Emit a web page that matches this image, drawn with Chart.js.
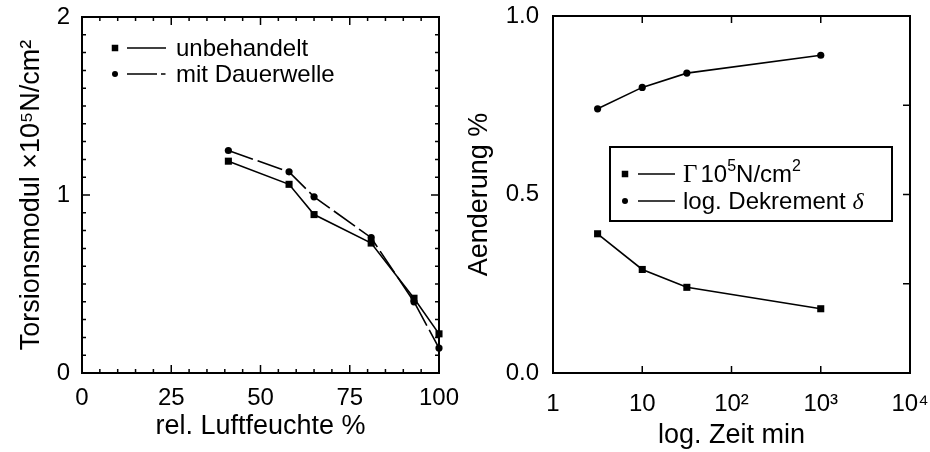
<!DOCTYPE html>
<html><head><meta charset="utf-8">
<script src="https://cdn.jsdelivr.net/npm/chart.js@4.4.0/dist/chart.umd.min.js"></script>
<style>
html,body{margin:0;padding:0;background:#fff;}
#wrap{position:relative;width:930px;height:452px;overflow:hidden;}
canvas{position:absolute;top:0;}
</style>
</head><body>
<div id="wrap">
<canvas id="c1" width="465" height="452" style="left:0px"></canvas>
<canvas id="c2" width="465" height="452" style="left:465px"></canvas>
</div>
<script>
// ---- data (left panel) ----
const humidity = [41, 58, 65, 81, 93, 100];
const modulusUntreated = [1.19, 1.06, 0.89, 0.73, 0.42, 0.22];
const modulusPermed = [1.25, 1.13, 0.99, 0.76, 0.40, 0.14];
const leftSeriesLabels = ['unbehandelt', 'mit Dauerwelle'];
const humidityMajorStep = 25;
// ---- data (right panel) ----
const timeMin = [3.16, 10, 31.6, 1000];
const changeGamma = [0.39, 0.29, 0.24, 0.18];
const changeDelta = [0.74, 0.80, 0.84, 0.89];
const timeTicks = [1, 10, 100, 1000, 10000];
const timeTickLabels = ['1', '10', '10²', '10³', '10⁴'];
const rightSeriesLabels = ['Γ 10⁵N/cm²', 'log. Dekrement δ'];

const SANS = "'Liberation Sans', Arial, sans-serif";
const SERIF = "'Liberation Serif', 'DejaVu Serif', serif";

function pts(xs, ys) { return xs.map((x, i) => ({x: x, y: ys[i]})); }
function isInt(v) { return Math.abs(v - Math.round(v)) < 1e-6; }
function fixX(h) { return s => { s.height = h; s.paddingLeft = 0; s.paddingRight = 0; s.paddingTop = 0; s.paddingBottom = 0; }; }
function fixY(w) { return s => { s.width = w; s.paddingLeft = 0; s.paddingRight = 0; s.paddingTop = 0; s.paddingBottom = 0; }; }

function framePlugin(cfg) {
  return {
    id: 'frame_' + cfg.key,
    beforeDatasetsDraw(chart) {
      const ctx = chart.ctx, a = chart.chartArea;
      const xs = chart.scales.x, ys = chart.scales.y;
      ctx.save();
      ctx.strokeStyle = '#000';
      ctx.lineWidth = 1.5;
      ctx.beginPath();
      xs.ticks.forEach(t => {
        const p = xs.getPixelForValue(t.value);
        const len = cfg.xLen(t.value);
        ctx.moveTo(p, a.bottom); ctx.lineTo(p, a.bottom - len);
        ctx.moveTo(p, a.top); ctx.lineTo(p, a.top + len);
      });
      ys.ticks.forEach(t => {
        const p = ys.getPixelForValue(t.value);
        const len = cfg.yLen(t.value);
        if (cfg.yLeft) { ctx.moveTo(a.left, p); ctx.lineTo(a.left + len, p); }
        if (cfg.yRight) { ctx.moveTo(a.right, p); ctx.lineTo(a.right - len, p); }
      });
      ctx.stroke();
      ctx.lineWidth = 2;
      ctx.strokeRect(a.left, a.top, a.right - a.left, a.bottom - a.top);
      ctx.restore();
    }
  };
}

function legendPlugin(cfg) {
  return {
    id: 'legend_' + cfg.key,
    afterDraw(chart) {
      const ctx = chart.ctx;
      ctx.save();
      ctx.strokeStyle = '#000';
      ctx.fillStyle = '#000';
      if (cfg.box) { ctx.lineWidth = 2; ctx.strokeRect(cfg.box[0], cfg.box[1], cfg.box[2], cfg.box[3]); }
      cfg.items.forEach(it => {
        if (it.marker === 'rect') {
          ctx.fillRect(cfg.markerX - cfg.sq / 2, it.y - cfg.sq / 2, cfg.sq, cfg.sq);
        } else {
          ctx.beginPath(); ctx.arc(cfg.markerX, it.y, cfg.r, 0, Math.PI * 2); ctx.fill();
        }
        ctx.lineWidth = 1.6;
        ctx.setLineDash(it.dash || []);
        ctx.beginPath(); ctx.moveTo(cfg.lineX0, it.y); ctx.lineTo(cfg.lineX1, it.y); ctx.stroke();
        ctx.setLineDash([]);
        let x = cfg.textX;
        ctx.textAlign = 'left';
        ctx.textBaseline = 'middle';
        it.parts.forEach(p => {
          ctx.font = p.font;
          ctx.fillText(p.t, x, it.y + cfg.textDy - (p.up || 0));
          x += ctx.measureText(p.t).width + (p.gap || 0);
        });
      });
      ctx.restore();
    }
  };
}

Chart.defaults.color = '#000';
Chart.defaults.font.family = SANS;

// ---------- left chart ----------
new Chart(document.getElementById('c1'), {
  type: 'scatter',
  data: {
    datasets: [
      { label: leftSeriesLabels[0], data: pts(humidity, modulusUntreated), showLine: true,
        borderColor: '#000', backgroundColor: '#000', borderWidth: 1.6,
        pointStyle: 'rect', pointRadius: 5, pointBorderWidth: 0, clip: false },
      { label: leftSeriesLabels[1], data: pts(humidity, modulusPermed), showLine: true,
        borderColor: '#000', backgroundColor: '#000', borderWidth: 1.6, borderDash: [26, 5],
        pointStyle: 'circle', pointRadius: 3.6, pointBorderWidth: 0, clip: false }
    ]
  },
  options: {
    responsive: false, animation: false, devicePixelRatio: 1,
    layout: { padding: { top: 17, right: 26, left: 0, bottom: 0 } },
    plugins: { legend: { display: false }, tooltip: { enabled: false } },
    scales: {
      x: {
        type: 'linear', min: 0, max: 100,
        afterFit: fixX(79),
        grid: { display: false, drawTicks: false }, border: { display: false },
        ticks: { stepSize: 5, maxTicksLimit: 100, autoSkip: false, maxRotation: 0, padding: 11,
          font: { size: 24 }, color: '#000',
          callback: v => (v % humidityMajorStep === 0 ? String(v) : '') },
        title: { display: true, text: 'rel. Luftfeuchte %', color: '#000',
          font: { size: 27, lineHeight: 1 }, padding: { top: 0, bottom: 12 } }
      },
      y: {
        type: 'linear', min: 0, max: 2,
        afterFit: fixY(82),
        grid: { display: false, drawTicks: false }, border: { display: false },
        ticks: { stepSize: 0.1, maxTicksLimit: 100, autoSkip: false, padding: 12,
          font: { size: 24 }, color: '#000',
          callback: v => (isInt(v) ? String(Math.round(v)) : '') },
        title: { display: true, text: 'Torsionsmodul ×10⁵N/cm²', color: '#000',
          font: { size: 27, lineHeight: 1 }, padding: { top: 18, bottom: 0 } }
      }
    }
  },
  plugins: [
    framePlugin({ key: 'l', xLen: v => (v % humidityMajorStep === 0 ? 8 : 4), yLen: v => (isInt(v) ? 8 : 4), yLeft: true, yRight: true }),
    legendPlugin({ key: 'l', markerX: 115, sq: 6.5, r: 3, lineX0: 127, lineX1: 166, textX: 176, textDy: 1.5,
      items: [
        { marker: 'rect', y: 48, parts: [{ t: leftSeriesLabels[0], font: '24px ' + SANS }] },
        { marker: 'circle', y: 74, dash: [30, 4, 4.5, 40], parts: [{ t: leftSeriesLabels[1], font: '24px ' + SANS }] }
      ] })
  ]
});

// ---------- right chart ----------
const gParts = [
  { t: rightSeriesLabels[0].slice(0, 1), font: '25px ' + SERIF, gap: 3 },
  { t: '10', font: '24px ' + SANS },
  { t: '5', font: '16px ' + SANS, up: 9 },
  { t: 'N/cm', font: '24px ' + SANS },
  { t: '2', font: '16px ' + SANS, up: 9 }
];
const dLabel = rightSeriesLabels[1];
const dParts = [
  { t: dLabel.slice(0, dLabel.length - 1), font: '24px ' + SANS },
  { t: dLabel.slice(-1), font: 'italic 24px ' + SERIF }
];

new Chart(document.getElementById('c2'), {
  type: 'scatter',
  data: {
    datasets: [
      { label: rightSeriesLabels[0], data: pts(timeMin, changeGamma), showLine: true,
        borderColor: '#000', backgroundColor: '#000', borderWidth: 1.6,
        pointStyle: 'rect', pointRadius: 5, pointBorderWidth: 0, clip: false },
      { label: rightSeriesLabels[1], data: pts(timeMin, changeDelta), showLine: true,
        borderColor: '#000', backgroundColor: '#000', borderWidth: 1.6,
        pointStyle: 'circle', pointRadius: 3.6, pointBorderWidth: 0, clip: false }
    ]
  },
  options: {
    responsive: false, animation: false, devicePixelRatio: 1,
    layout: { padding: { top: 16, right: 20, left: 0, bottom: 0 } },
    plugins: { legend: { display: false }, tooltip: { enabled: false } },
    scales: {
      x: {
        type: 'logarithmic', min: timeTicks[0], max: timeTicks[timeTicks.length - 1],
        afterBuildTicks: s => { s.ticks = timeTicks.map(v => ({ value: v })); },
        afterFit: fixX(79),
        grid: { display: false, drawTicks: false }, border: { display: false },
        ticks: { autoSkip: false, maxRotation: 0, padding: 17, font: { size: 24 }, color: '#000',
          callback: (v, i) => timeTickLabels[i] },
        title: { display: true, text: 'log. Zeit min', color: '#000',
          font: { size: 27, lineHeight: 1 }, padding: { top: 0, bottom: 3 } }
      },
      y: {
        type: 'linear', min: 0, max: 1,
        afterFit: fixY(88),
        grid: { display: false, drawTicks: false }, border: { display: false },
        ticks: { stepSize: 0.25, maxTicksLimit: 100, autoSkip: false, padding: 14,
          font: { size: 24 }, color: '#000',
          callback: v => (isInt(v * 2) ? v.toFixed(1) : '') },
        title: { display: true, text: 'Aenderung %', color: '#000',
          font: { size: 27, lineHeight: 1 }, padding: { top: 1.5, bottom: 0 } }
      }
    }
  },
  plugins: [
    framePlugin({ key: 'r', xLen: v => 7, yLen: v => 7, yLeft: false, yRight: true }),
    legendPlugin({ key: 'r', box: [145, 147, 282, 74], markerX: 160, sq: 6.5, r: 3, lineX0: 173, lineX1: 210, textX: 218, textDy: 1.5,
      items: [
        { marker: 'rect', y: 174, parts: gParts },
        { marker: 'circle', y: 201, parts: dParts }
      ] })
  ]
});
</script>
</body></html>
